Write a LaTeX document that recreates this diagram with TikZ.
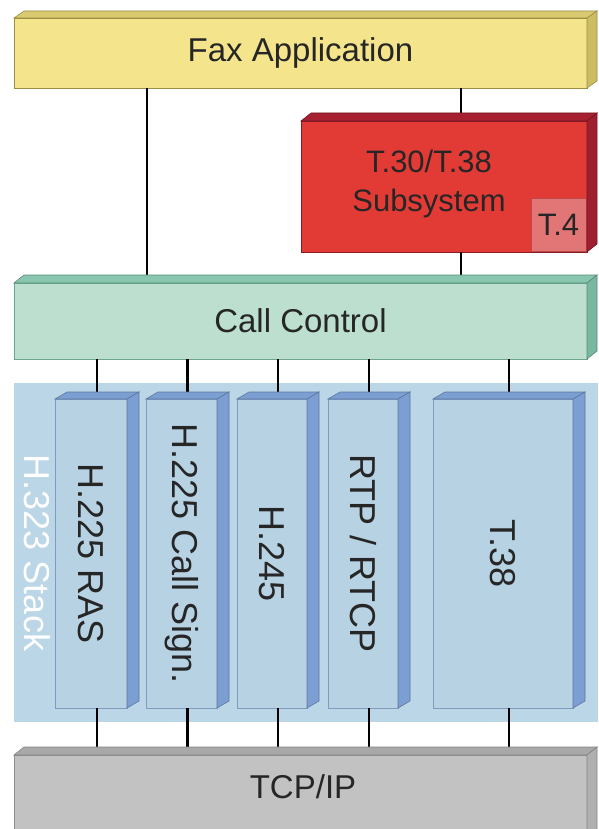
\documentclass[tikz,border=0pt]{standalone}
\usepackage{fontspec}
\setmainfont{Liberation Sans}
\usepackage{xcolor}
\usepackage{tikz}
\usetikzlibrary{positioning, calc}

\definecolor{faxfront}{HTML}{F4E48C}
\definecolor{faxtop}{HTML}{D9C96F}
\definecolor{faxside}{HTML}{CDBD62}
\definecolor{faxedge}{HTML}{9C8E45}
\definecolor{redfront}{HTML}{E23B36}
\definecolor{redtop}{HTML}{A52030}
\definecolor{redside}{HTML}{9E1F30}
\definecolor{rededge}{HTML}{8A1A25}
\definecolor{tfourfill}{HTML}{E27575}
\definecolor{tfouredge}{HTML}{B84A4A}
\definecolor{callfront}{HTML}{BCDFCF}
\definecolor{calltop}{HTML}{88C6AF}
\definecolor{callside}{HTML}{78B8A0}
\definecolor{calledge}{HTML}{6AA58E}
\definecolor{stackbg}{HTML}{BBD6E7}
\definecolor{boxfront}{HTML}{B7D2E3}
\definecolor{boxside}{HTML}{7C9FD3}
\definecolor{boxedge}{HTML}{7F9CBF}
\definecolor{tcpfront}{HTML}{C2C2C2}
\definecolor{tcptop}{HTML}{A8A8A8}
\definecolor{tcpside}{HTML}{B0B0B0}
\definecolor{tcpedge}{HTML}{8C8C8C}

% top and side faces of a block: node, top colour, side colour, dx, dy
\newcommand{\slabfaces}[5]{
    \filldraw[fill=#2, draw=#3!75!black, line width=0.6pt]
        (#1.north west) -- ++(#4,-#5) -- ([shift={(#4,-#5)}]#1.north east) -- (#1.north east) -- cycle;
    \filldraw[fill=#3, draw=#3!75!black, line width=0.6pt]
        (#1.north east) -- ++(#4,-#5) -- ([shift={(#4,-#5)}]#1.south east) -- (#1.south east) -- cycle;
}

\begin{document}
\begin{tikzpicture}[x=1pt, y=-1pt,
        front/.style={rectangle, anchor=north west, inner sep=0pt, outer sep=0pt, line width=0.6pt},
        barlabel/.style={font=\fontsize{33}{38}\selectfont, text=black!85},
        vlabel/.style={rotate=-90, font=\fontsize{36}{40}\selectfont, text=black!85},
        wire/.style={line width=2.6pt, black}]
        \clip (0,0) rectangle (598,829);
        \fill[white] (0,0) rectangle (598,829);

        % H.323 stack area
        \node[front, fill=stackbg, minimum width=584, minimum height=339] (stack) at (14,383) {};
        \node[vlabel, text=white] (stacklabel) at (37,553) {H.323 Stack};

        % Layers
        \node[front, fill=faxfront, draw=faxedge, minimum width=573, minimum height=70, barlabel] (fax) at (14,18) {Fax Application};
        \node[front, fill=redfront, draw=rededge, minimum width=286, minimum height=131] (red) at (301,121) {};
        \node[front, fill=tfourfill, draw=tfouredge, minimum width=55, minimum height=53, font=\fontsize{31}{36}\selectfont, text=black!85] (tfour) at (531,198) {T.4};
        \node[align=center, font=\fontsize{31}{39}\selectfont, text=black!85] (redlabel) at (429,184) {T.30/T.38\\Subsystem};
        \node[front, fill=callfront, draw=calledge, minimum width=573, minimum height=76, barlabel] (call) at (14,283) {Call Control};
        \node[front, fill=tcpfront, draw=tcpedge, minimum width=573, minimum height=90] (tcp) at (14,755) {};
        \node[barlabel] (tcplabel) at (303,787) {TCP/IP};

        % Stack protocols
        \node[front, fill=boxfront, draw=boxedge, minimum width=72, minimum height=309] (ras) at (55,399) {};
        \node[front, fill=boxfront, draw=boxedge, minimum width=71, minimum height=309] (sign) at (146,399) {};
        \node[front, fill=boxfront, draw=boxedge, minimum width=70, minimum height=309] (h245) at (237,399) {};
        \node[front, fill=boxfront, draw=boxedge, minimum width=70, minimum height=309] (rtp) at (328,399) {};
        \node[front, fill=boxfront, draw=boxedge, minimum width=140, minimum height=309] (t38) at (433,399) {};

        \node[vlabel] (raslabel) at (ras.center) {H.225 RAS};
        \node[vlabel] (signlabel) at (sign.center) {H.225 Call Sign.};
        \node[vlabel] (h245label) at (h245.center) {H.245};
        \node[vlabel] (rtplabel) at (rtp.center) {RTP / RTCP};
        \node[vlabel] (t38label) at (t38.center) {T.38};

        % Connections
        \coordinate (leftx) at (147,0);
        \coordinate (rightx) at (461,0);
        \draw[wire] (leftx |- fax.south) -- (leftx |- call.north);
        \draw[wire] (rightx |- fax.south) -- (rightx |- red.north);
        \draw[wire] (rightx |- red.south) -- (rightx |- call.north);
        \foreach \b in {ras,sign,h245,rtp,t38} {
                \coordinate (\b-t) at ([xshift=6pt]\b.north);
                \coordinate (\b-b) at ([xshift=6pt]\b.south);
                \draw[wire] (call.south -| \b-t) -- (\b-t);
                \draw[wire] (\b-b) -- (tcp.north -| \b-b);
            }

        % Faces
        \slabfaces{fax}{faxtop}{faxside}{10}{7}
        \slabfaces{red}{redtop}{redside}{10}{8}
        \slabfaces{call}{calltop}{callside}{10}{8}
        \slabfaces{tcp}{tcptop}{tcpside}{10}{8}
        \foreach \b in {ras,sign,h245,rtp,t38} {
                \slabfaces{\b}{boxside}{boxside}{12}{7}
            }
    \end{tikzpicture}
\end{document}
